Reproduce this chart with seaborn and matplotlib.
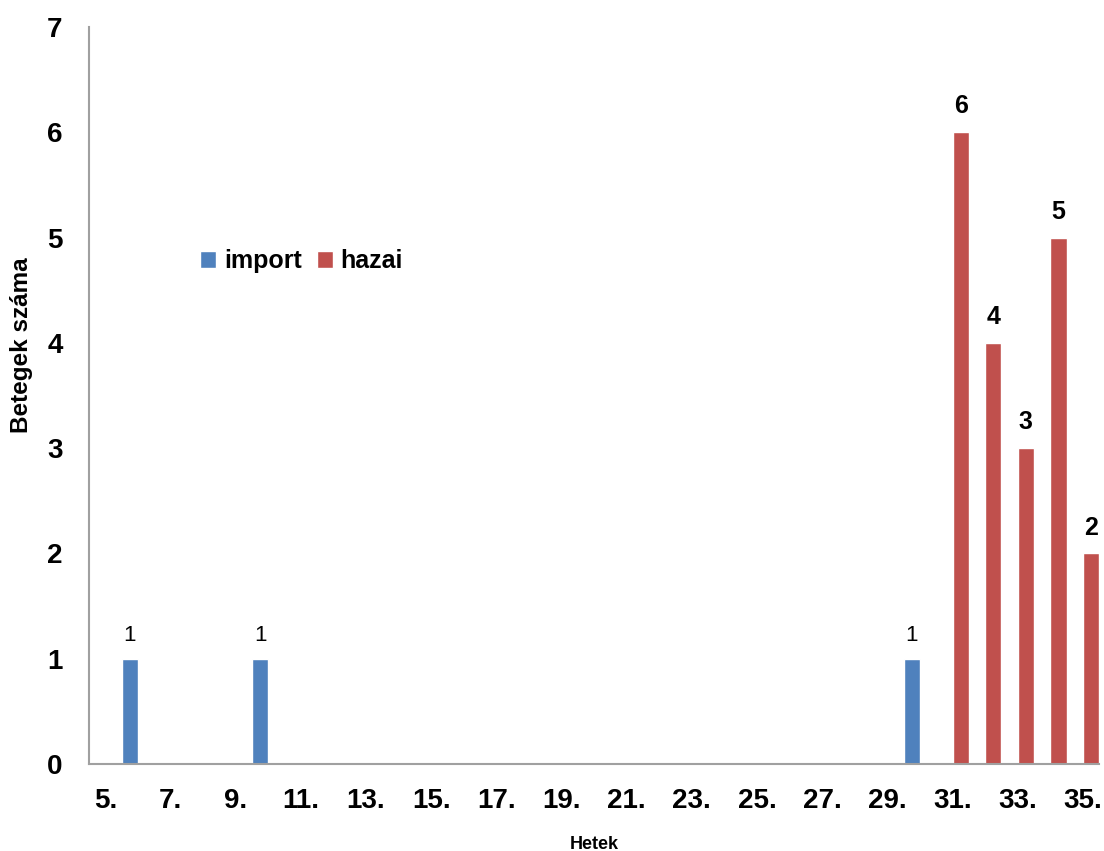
import pandas as pd
import seaborn as sns
import matplotlib.pyplot as plt

weeks = [5, 6, 7, 8, 9, 10, 11, 12, 13, 14, 15, 16, 17, 18, 19, 20,
         21, 22, 23, 24, 25, 26, 27, 28, 29, 30, 31, 32, 33, 34, 35]
import_cases = [0, 1, 0, 0, 0, 1, 0, 0, 0, 0, 0, 0, 0, 0, 0, 0,
                0, 0, 0, 0, 0, 0, 0, 0, 0, 1, 0, 0, 0, 0, 0]
hazai_cases = [0, 0, 0, 0, 0, 0, 0, 0, 0, 0, 0, 0, 0, 0, 0, 0,
               0, 0, 0, 0, 0, 0, 0, 0, 0, 0, 6, 4, 3, 5, 2]
series_names = ['import', 'hazai']
colors = ['#4F81BD', '#C0504D']

week_labels = [f"{w}." for w in weeks]
df = pd.concat([
    pd.DataFrame({'het': week_labels, 'ertek': import_cases, 'tipus': 'import'}),
    pd.DataFrame({'het': week_labels, 'ertek': hazai_cases, 'tipus': 'hazai'}),
])

sns.set_style('white')
plt.rcParams['font.family'] = ['Liberation Sans', 'DejaVu Sans']
plt.rcParams['text.color'] = 'black'
plt.rcParams['axes.labelcolor'] = 'black'
plt.rcParams['xtick.color'] = 'black'
plt.rcParams['ytick.color'] = 'black'

fig = plt.figure(figsize=(11.04, 8.51), dpi=100)
ax = fig.add_axes([0.0806, 0.1022, 0.915, 0.8661])

sns.barplot(data=df, x='het', y='ertek', hue='tipus', order=week_labels,
            hue_order=series_names, palette=colors, width=1.0, gap=0,
            saturation=1, ax=ax, legend=True)

# adatcímkék csak a nem nulla oszlopokra
for cont, name in zip(ax.containers, series_names):
    labels = [f"{int(b.get_height())}" if b.get_height() > 0 else '' for b in cont]
    if name == 'import':
        ax.bar_label(cont, labels=labels, padding=9, fontsize=16)
    else:
        ax.bar_label(cont, labels=labels, padding=10, fontsize=18, fontweight='bold')

ax.set_xlim(-0.5, len(weeks) - 0.5)
ax.set_ylim(0, 7)
ax.set_yticks(range(0, 8))
ax.set_xticks(range(0, len(weeks), 2))
ax.set_xticklabels(week_labels[::2])
ax.tick_params(axis='x', length=0, pad=17, labelsize=20)
ax.tick_params(axis='y', length=0, pad=19, labelsize=20)
for lab in ax.get_xticklabels() + ax.get_yticklabels():
    lab.set_fontweight('bold')

ax.set_xlabel('Hetek', fontsize=13, fontweight='bold', labelpad=16)
ax.set_ylabel('Betegek száma', fontsize=17.5, fontweight='bold')
ax.yaxis.set_label_coords(-0.055, 0.568)

for side in ['top', 'right']:
    ax.spines[side].set_visible(False)
for side in ['left', 'bottom']:
    ax.spines[side].set_color('#A0A0A0')
    ax.spines[side].set_linewidth(1.5)

leg = ax.legend(loc='center left', bbox_to_anchor=(0.11, 0.6825), ncol=2,
                frameon=False, prop={'size': 18, 'weight': 'bold'},
                handlelength=0.65, handleheight=0.65, handletextpad=0.3,
                columnspacing=0.6, borderpad=0, borderaxespad=0)

fig.savefig('out.png', dpi=100)
